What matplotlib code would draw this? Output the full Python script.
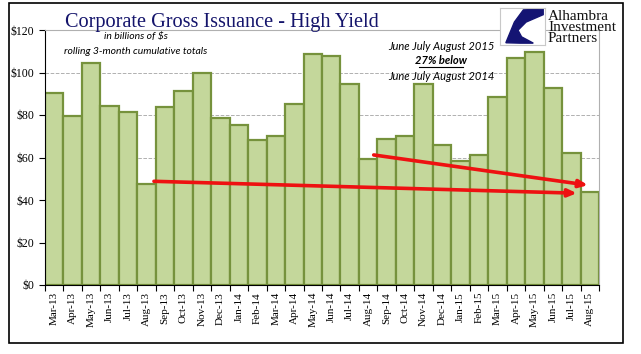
# Corporate Gross Issuance - High Yield (rolling 3-month totals)

import numpy as np
import matplotlib.pyplot as plt
from matplotlib.patches import Rectangle, Polygon

# data ($ billions)
months = ['Mar-13', 'Apr-13', 'May-13', 'Jun-13', 'Jul-13', 'Aug-13', 'Sep-13', 'Oct-13',
          'Nov-13', 'Dec-13', 'Jan-14', 'Feb-14', 'Mar-14', 'Apr-14', 'May-14', 'Jun-14',
          'Jul-14', 'Aug-14', 'Sep-14', 'Oct-14', 'Nov-14', 'Dec-14', 'Jan-15', 'Feb-15',
          'Mar-15', 'Apr-15', 'May-15', 'Jun-15', 'Jul-15', 'Aug-15']
issuance = [90.2, 79.7, 104.3, 84.1, 81.3, 47.4, 83.6, 91.1, 100.0, 78.4,
            75.3, 68.1, 70.1, 85.0, 108.5, 107.8, 94.4, 59.1, 68.5, 70.1,
            94.4, 65.7, 58.2, 61.0, 88.6, 106.7, 109.5, 92.5, 62.0, 43.8]
yticks = [0, 20, 40, 60, 80, 100, 120]

# trend arrows: (x_start, y_start, x_end, y_end) in bar index / $bn
arrow_2013 = (5.4, 48.8, 28.3, 43.2)
arrow_2014 = (17.3, 61.2, 28.9, 47.0)

x = np.arange(len(months))

fig = plt.figure(figsize=(6.41, 3.54), dpi=100)
ax = fig.add_axes([45/641, 1 - 285/354, 554/641, 255/354])

ax.bar(x, issuance, width=1.0, color='#c4d79b', edgecolor='#76923c', linewidth=1.6, zorder=2)

ax.set_xlim(-0.5, len(months) - 0.5)
ax.set_ylim(0, 120)
ax.set_yticks(yticks)
ax.set_yticklabels(['$%d' % v for v in yticks], family='Liberation Serif', fontsize=8.5)
ax.yaxis.grid(True, linestyle='--', color='#b0b0b0', linewidth=0.7, zorder=0)

# ticks between categories, labels in the middle
ax.set_xticks(np.arange(len(months) + 1) - 0.5)
ax.set_xticklabels([])
ax.set_xticks(x, minor=True)
ax.set_xticklabels(months, minor=True, rotation=90, family='Liberation Serif', fontsize=8)
ax.tick_params(axis='x', which='minor', length=0, pad=5)
ax.tick_params(axis='x', which='major', length=4, direction='out', color='black')
ax.tick_params(axis='y', length=4, direction='out', color='black')

for s in ['top', 'right']:
    ax.spines[s].set_color('#b0b0b0')
    ax.spines[s].set_linewidth(0.8)
for s in ['left', 'bottom']:
    ax.spines[s].set_color('black')
    ax.spines[s].set_linewidth(0.8)

for a in [arrow_2013, arrow_2014]:
    ax.annotate('', xy=(a[2], a[3]), xytext=(a[0], a[1]),
                arrowprops=dict(arrowstyle='-|>,head_length=0.5,head_width=0.22',
                                color='#ee1111', lw=2.6, shrinkA=0, shrinkB=0), zorder=5)

# texts
fig.text(65/641, 1 - 22/354, 'Corporate Gross Issuance - High Yield', family='Liberation Serif',
         fontsize=14.6, color='#14146b', va='center', ha='left')
fig.text(136/641, 1 - 37/354, 'in billions of $s', family='Lato', style='italic',
         fontsize=7.5, ha='center', va='center')
fig.text(136/641, 1 - 51/354, 'rolling 3-month cumulative totals', family='Lato', style='italic',
         fontsize=7.5, ha='center', va='center')

fig.text(441/641, 1 - 46/354, 'June July August 2015', family='Lato', style='italic',
         fontsize=8, ha='center', va='center')
fig.text(441/641, 1 - 61/354, '27% below', family='Lato', style='italic', weight='bold',
         fontsize=8, ha='center', va='center')
fig.add_artist(plt.Line2D([419/641, 463/641], [1 - 67/354, 1 - 67/354], color='black', lw=0.8))
fig.text(441/641, 1 - 76/354, 'June July August 2014', family='Lato', style='italic',
         fontsize=8, ha='center', va='center')

# logo
logo = fig.add_axes([500/641, 1 - 45/354, 45/641, 37/354])
logo.set_xlim(0, 1)
logo.set_ylim(0, 1)
logo.set_xticks([])
logo.set_yticks([])
for s in logo.spines.values():
    s.set_color('#c8c8c8')
    s.set_linewidth(0.8)
swoosh = [(0.96, 0.97), (0.52, 0.95), (0.32, 0.62), (0.13, 0.06), (0.45, 0.05), (0.74, 0.05),
          (0.48, 0.22), (0.40, 0.40), (0.58, 0.62), (0.96, 0.82)]
logo.add_patch(Polygon(swoosh, closed=True, color='#141473'))
fig.text(548/641, 1 - 27.5/354, 'Alhambra\nInvestment\nPartners', family='Liberation Serif',
         fontsize=11, linespacing=0.82, color='#111111', va='center', ha='left')

# outer frame
fig.add_artist(Rectangle((9/641, 1 - 343/354), 614/641, 340/354, transform=fig.transFigure,
                         fill=False, edgecolor='black', linewidth=1.2))

plt.savefig('out.png', dpi=100)
